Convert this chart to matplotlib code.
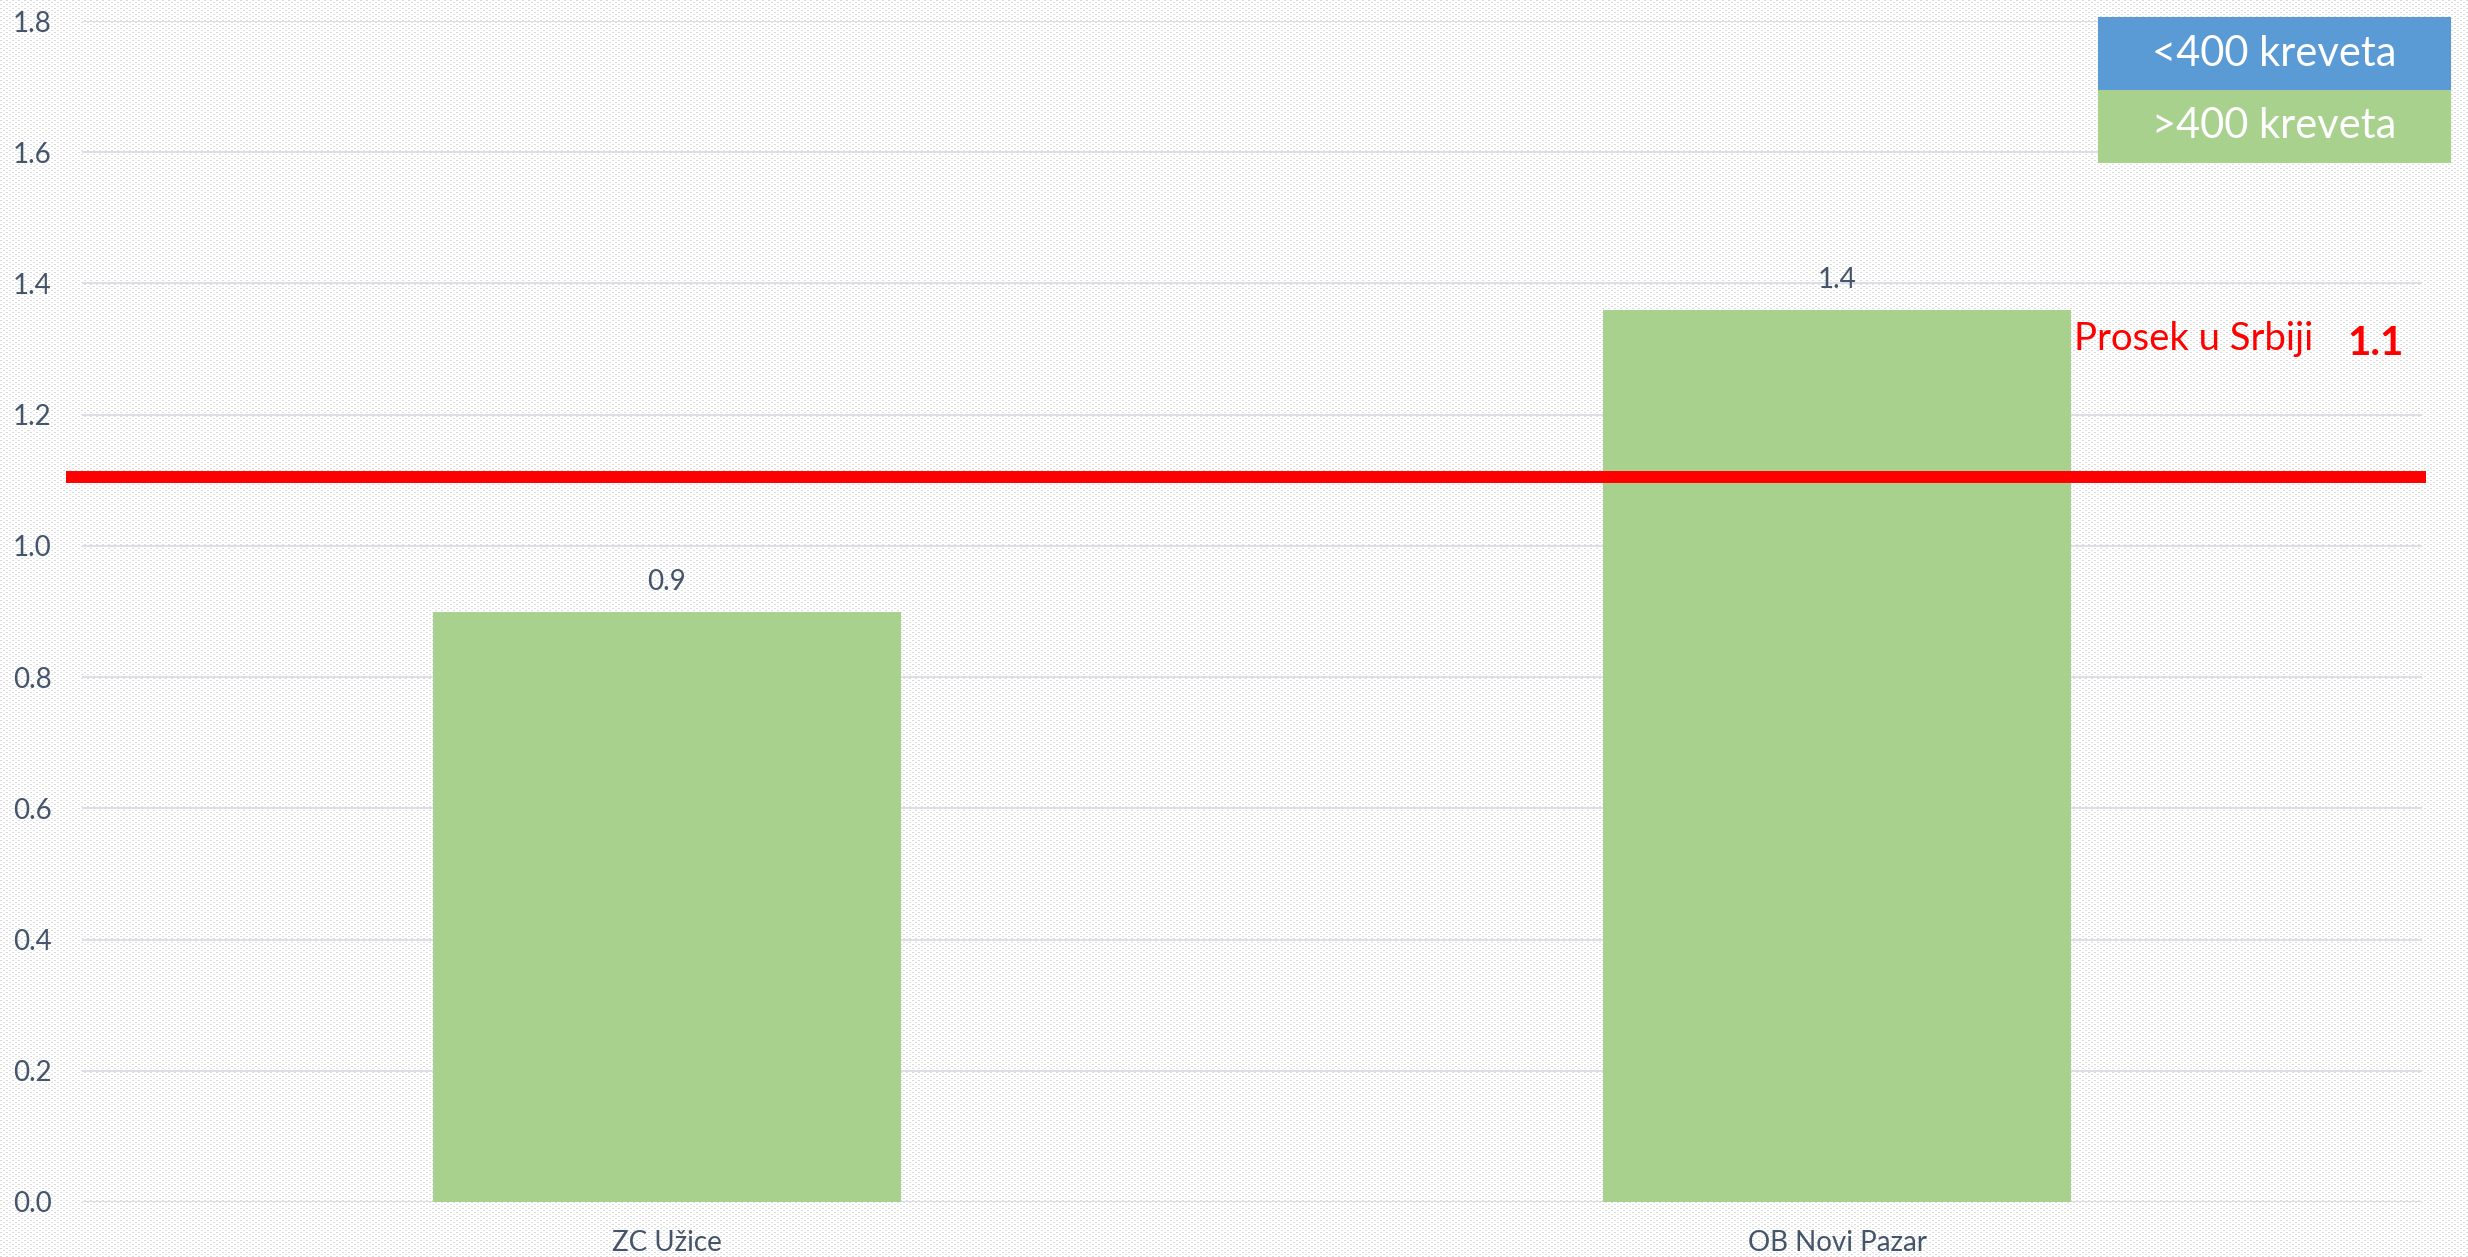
import numpy as np
import matplotlib
matplotlib.use("Agg")
import matplotlib.pyplot as plt
from matplotlib.patches import Rectangle

# data
hospitals = ["ZC Užice", "OB Novi Pazar"]
values = [0.90, 1.36]
value_labels = ["0.9", "1.4"]
serbia_avg = 1.105
legend_labels = ["<400 kreveta", ">400 kreveta"]
yticks = [0.0, 0.2, 0.4, 0.6, 0.8, 1.0, 1.2, 1.4, 1.6, 1.8]

BLUE = "#5B9BD5"
GREEN = "#A9D18E"
TEXT = "#44546A"
GRID = "#DCE0E6"

plt.rcParams["font.family"] = ["Lato", "DejaVu Sans"]

W, H = 2468, 1257
fig = plt.figure(figsize=(W / 100, H / 100), dpi=100)

# dotted background texture (drawn underneath everything)
yy, xx = np.mgrid[0:H, 0:W]
row_block = (yy // 2) % 2
dots = np.where(row_block == 0, (xx % 6) < 2, ((xx - 3) % 6) < 2) & ((yy % 2) == 0)
bg = np.ones((H, W, 3))
bg[dots] = 0.86
fig.figimage(bg, xo=0, yo=0, zorder=-10)

ax = fig.add_axes([82 / W, 55 / H, 2340 / W, 1181 / H])
ax.patch.set_alpha(0)

x = np.arange(len(hospitals))
ax.bar(x, values, width=0.4, color=GREEN, zorder=2)
for xi, v, lab in zip(x, values, value_labels):
    ax.annotate(lab, (xi, v), xytext=(0, 12), textcoords="offset points",
                ha="center", va="bottom", fontsize=20, color=TEXT)

ax.set_xlim(-0.5, 1.5)
ax.set_ylim(0, 1.8)
ax.set_yticks(yticks)
ax.set_yticklabels([f"{t:.1f}" for t in yticks])
ax.set_xticks(x)
ax.set_xticklabels(hospitals)
ax.tick_params(axis="both", length=0, labelsize=20, labelcolor=TEXT)
ax.tick_params(axis="y", pad=22)
ax.tick_params(axis="x", pad=20)
ax.grid(axis="y", color=GRID, linewidth=1.5, zorder=1)
ax.set_axisbelow(True)
for s in ax.spines.values():
    s.set_visible(False)

# national average line
ax.plot([-0.514, 1.503], [serbia_avg, serbia_avg], color="red", linewidth=8.6,
        solid_capstyle="butt", clip_on=False, zorder=3)
ax.text(1.2026, 1.299, "Prosek u Srbiji", color="red", fontsize=27.5,
        va="baseline", ha="left")
ax.text(1.436, 1.291, f"{round(serbia_avg, 1):.1f}", color="red", fontsize=29,
        fontweight="bold", va="baseline", ha="left")

# legend boxes in the corner
box_x0, box_x1 = 2098, 2451
box_edges = [17, 90, 163]
for i, (lab, col) in enumerate(zip(legend_labels, [BLUE, GREEN])):
    y_top, y_bot = box_edges[i], box_edges[i + 1]
    fig.add_artist(Rectangle((box_x0 / W, 1 - y_bot / H), (box_x1 - box_x0) / W,
                             (y_bot - y_top) / H, transform=fig.transFigure,
                             facecolor=col, edgecolor="none", zorder=5))
    fig.text((box_x0 + box_x1) / 2 / W, 1 - (y_top + y_bot) / 2 / H, lab,
             color="white", fontsize=30, ha="center", va="center", zorder=6)

fig.savefig("out.png", dpi=100)
